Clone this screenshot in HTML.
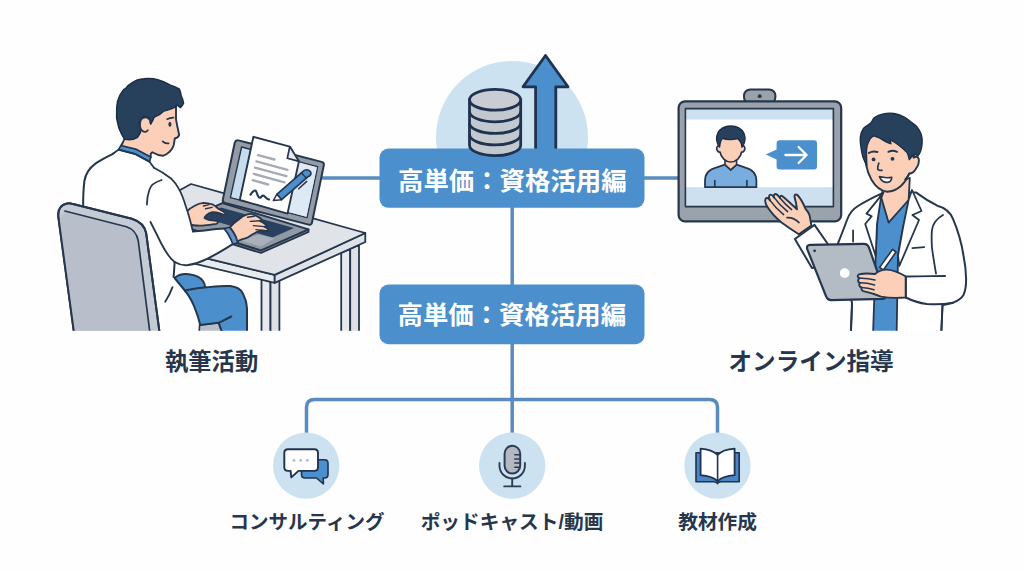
<!DOCTYPE html>
<html lang="ja">
<head>
<meta charset="utf-8">
<title>高単価：資格活用編</title>
<style>
html,body{margin:0;padding:0;background:#fefefe;}
body{width:1024px;height:572px;overflow:hidden;position:relative;font-family:"Liberation Sans","Noto Sans CJK JP",sans-serif;}
svg{position:absolute;left:0;top:0;display:block;}
svg text{font-family:"Liberation Sans","Noto Sans CJK JP",sans-serif;font-weight:bold;}
</style>
</head>
<body>
<svg width="1024" height="572" viewBox="0 0 1024 572">
<defs>
<clipPath id="cut"><rect x="0" y="0" width="1024" height="330.8"/></clipPath>
<clipPath id="ccl"><rect x="400" y="50" width="230" height="150"/></clipPath>
</defs>
<rect width="1024" height="572" fill="#fefefe"/>

<!-- ============ CONNECTORS ============ -->
<g id="lines" fill="none" stroke="#5a8bbf" stroke-width="3.5">
<path d="M322 178.1H381"/>
<path d="M643 178.1H679"/>
<path d="M512.2 206V434"/>
<path d="M306.5 434V407.6Q306.5 399.6 314.5 399.6H709.5Q717.5 399.6 717.5 407.6V434"/>
</g>

<!-- ============ CENTER ICON ============ -->
<g id="center">
<circle cx="512" cy="137" r="76" fill="#cce2f1" clip-path="url(#ccl)"/>
<!-- arrow -->
<path d="M545.5 55.5L568 86.8H555.8V152H535.6V86.8H523Z" fill="#4c8fcd" stroke="#1f3350" stroke-width="2.8" stroke-linejoin="round"/>
</g>

<!-- ============ BOXES ============ -->
<rect x="379.5" y="148.6" width="265" height="59.2" rx="9" fill="#4c8fcd"/>
<rect x="379.5" y="284.6" width="265" height="59.6" rx="9" fill="#4c8fcd"/>
<!-- db cylinder -->
<g stroke="#1f3350" stroke-width="2.8" fill="#c3c7ce">
<path d="M469.5 99.8V145.2A25.6 10.4 0 0 0 520.7 145.2V99.8Z"/>
<path d="M469.5 134.5A25.6 10.4 0 0 0 520.7 134.5" fill="none"/>
<path d="M469.5 123A25.6 10.4 0 0 0 520.7 123" fill="none"/>
<path d="M469.5 111.4A25.6 10.4 0 0 0 520.7 111.4" fill="none"/>
<ellipse cx="495.1" cy="99.8" rx="25.6" ry="10.4" fill="#c9cdd3"/>
</g>
<text x="512.3" y="189.5" font-size="25.4" fill="#ffffff" text-anchor="middle">高単価：資格活用編</text>
<text x="511.8" y="324.2" font-size="25.4" fill="#ffffff" text-anchor="middle">高単価：資格活用編</text>

<!-- ============ BOTTOM ICONS ============ -->
<g id="icons">
<circle cx="306.2" cy="465.6" r="33.2" fill="#cce2f1"/>
<circle cx="512.2" cy="465.6" r="33.2" fill="#cce2f1"/>
<circle cx="717.5" cy="465.6" r="33.2" fill="#cce2f1"/>
<!-- chat -->
<path d="M305 459.8H324.5Q328 459.8 328 463.3V474.5Q328 478 324.5 478H323.2L323.4 484L316.5 478H305Q301.5 478 301.5 474.5V463.3Q301.5 459.8 305 459.8Z" fill="#4c8fcd" stroke="#1f3350" stroke-width="1.6" stroke-linejoin="round"/>
<path d="M288 449.2H314.3Q318 449.2 318 452.9V467.2Q318 470.9 314.3 470.9H298.5L291.3 477.4L290.6 470.9H288Q284.3 470.9 284.3 467.2V452.9Q284.3 449.2 288 449.2Z" fill="#ffffff" stroke="#1f3350" stroke-width="1.9" stroke-linejoin="round"/>
<circle cx="294" cy="460.3" r="1.5" fill="#b9bfd0"/><circle cx="300.6" cy="460.3" r="1.5" fill="#b9bfd0"/><circle cx="307.3" cy="460.3" r="1.5" fill="#b9bfd0"/>
<!-- mic -->
<rect x="504.6" y="445.8" width="15.6" height="27.8" rx="7.8" fill="#b4b9c1" stroke="#2b3c55" stroke-width="2"/>
<g stroke="#2b3c55" stroke-width="1.5" fill="none" stroke-linecap="round">
<path d="M514.8 454.7H519.4M514.8 458.9H519.4M514.8 463.1H519.4M514.8 467.3H519.4"/>
<path d="M499.5 463V465.8A12.7 12.7 0 0 0 524.9 465.8V463" stroke-width="1.9"/>
<path d="M512.2 478.5V486.4M504.2 486.4H520.4" stroke-width="1.9"/>
</g>
<!-- book -->
<path d="M696 452.8H739.2V481.8H721Q718 482 717.6 483.6Q717 482 714 481.8H696Z" fill="#4a85c4" stroke="#1f3350" stroke-width="1.6" stroke-linejoin="round"/>
<path d="M700.6 448.6Q712 449.4 717.6 454.8Q723 449.4 734.6 448.6V475.2Q723 476 717.6 481.2Q712 476 700.6 475.2Z" fill="#ffffff" stroke="#1f3350" stroke-width="1.8" stroke-linejoin="round"/>
<path d="M717.6 454.8V481.2" stroke="#1f3350" stroke-width="1.6"/>
</g>

<!-- ============ LABELS ============ -->
<text x="211.6" y="370" font-size="23.3" fill="#26364c" text-anchor="middle">執筆活動</text>
<text x="811.1" y="370" font-size="23.6" fill="#26364c" text-anchor="middle">オンライン指導</text>
<text x="307" y="528.5" font-size="19.5" fill="#26364c" text-anchor="middle">コンサルティング</text>
<text x="512" y="528.5" font-size="19.7" fill="#26364c" text-anchor="middle">ポッドキャスト/動画</text>
<text x="717.6" y="528.5" font-size="19.7" fill="#26364c" text-anchor="middle">教材作成</text>

<!-- ============ LEFT SCENE ============ -->
<g id="left" clip-path="url(#cut)" stroke-linejoin="round" stroke-linecap="round">

<!-- desk -->
<g stroke="#25364d" stroke-width="1.8">
<!-- far right leg -->
<path d="M341.2 253V335H350.2V249Z" fill="#e6e9ed"/>
<path d="M350.2 249V335H359V245Z" fill="#dde1e6"/>
<!-- front leg -->
<path d="M261.5 279V335H270.5V282Z" fill="#e6e9ed"/>
<path d="M270.5 282V335H279.4V279Z" fill="#dde1e6"/>
<!-- faces -->
<path d="M274.7 274.9L102 233V241.5L274.7 282.9Z" fill="#e9ecef"/>
<path d="M274.7 274.9L365.3 233V242L274.7 282.9Z" fill="#dfe3e8"/>
<!-- top -->
<path d="M191 184L365.3 233L274.7 274.9L102 233Z" fill="#e0e4e8"/>
</g>

<!-- laptop base -->
<g stroke="#25364d" stroke-width="1.8">
<path d="M175 226.5L261 253L308.5 232V229.3L261 250.3L175 224Z" fill="#6f7a8a"/>
<path d="M222.4 203.1L308.5 229.3L261 250.3L175 224Z" fill="#8f98a3"/>
<path d="M221 207.5L294 228L272.5 237.5L199.5 217Z" fill="#2a4060" stroke="none"/>
<path d="M238.5 239.8L259 234.8L274.5 238.3L261 246.6Z" fill="#aab0ba" stroke="none"/>
</g>
<!-- laptop screen -->
<path d="M238.6 140.4L321.6 161.9Q324.4 162.7 323.8 165.4L312 222.6Q311.4 225.4 308.6 224.6L225 203Q222.2 202.2 222.9 199.4L234.8 142.5Q235.8 139.6 238.6 140.4Z" fill="#929ba6" stroke="#25364d" stroke-width="2"/>
<path d="M241.6 147L317.6 166.8L307 217.6L230.4 197.6Z" fill="#c9dcee" stroke="#25364d" stroke-width="1.4"/>
<path d="M292 160.6L316.9 167.2L306.4 216.8L285 211Z" fill="#dde9f4"/>
<!-- paper -->
<path d="M253.4 136.8L289.8 146.6L298.9 161.4L287.5 213.6L239.8 200Z" fill="#ffffff" stroke="#25364d" stroke-width="1.9"/>
<path d="M289.8 146.6L287.3 158.2L298.9 161.4Z" fill="#e6e9ee" stroke="#25364d" stroke-width="1.7"/>
<g stroke="#a7abb6" stroke-width="2.4" fill="none">
<path d="M258 155.2L274.5 159.5M256.4 161.4L287.5 169.8M255 167.6L286.4 176.1M253.9 173.9L284.5 182.3M252.7 180.2L268.2 184.5"/>
</g>
<path d="M250.5 194.6C252.5 191.5 254.8 189.6 255.9 191C257.3 193 257.6 197.6 259.8 197.7C261.6 197.8 261.8 194.8 263.6 195.6C265.4 196.6 266.5 199 269 199.5" fill="none" stroke="#25364d" stroke-width="2.1"/>
<!-- pen -->
<path d="M276.8 194.3L303.3 171.2C305.5 169 309 169.4 310.4 171.6C311.8 173.8 310.6 175.6 308.1 176.6L281.6 199.7Z" fill="#4c8fcd" stroke="#25364d" stroke-width="1.7"/>
<path d="M276.8 194.3L281.6 199.7L273.3 200.6Z" fill="#ffffff" stroke="#25364d" stroke-width="1.5"/>
<path d="M301.4 172.8L306.4 178.2" fill="none" stroke="#25364d" stroke-width="1.3"/>
<path d="M298.7 188.8L306.7 181.4" fill="none" stroke="#25364d" stroke-width="1.5"/>

<path d="M199.6 324.9L218.7 322.8L223 335H199Z" fill="#b8bfcb" stroke="#25364d" stroke-width="1.6"/>
<!-- trousers -->
<g stroke="#25364d" stroke-width="2" fill="#4c8fcd">
<path d="M174.6 278C178 274.8 184 273.6 189 274.2C195.5 275 200.5 277.4 203 281C204.6 283.4 205.2 285.4 205 287.5L186 292Z"/>
<path d="M185 290.4C193 288.6 201 287.4 209.2 287C217 286.3 224 285.6 230.2 286.1C236.8 286.8 241 289.6 243 293.6C245.4 298.2 246.8 303 247 308.2V335H223L218.7 322.8L200.2 324.9C199 320 197.6 315 195.6 310.2C193.2 303 189.5 296.6 185 290.4Z"/>
<path d="M231.3 316.5L218.7 322.8" fill="none"/>
</g>

<!-- far hand -->
<path d="M185.9 212.1C188.6 209.6 191.6 207.4 194.7 205.8C197.6 204 200.5 203 203.5 202.8C206.6 202.8 209.6 203.4 212.3 204.3C214.6 205.6 216.6 207 218.2 208.7C221 210 223.8 211.6 226 213.6C225 215 222 214.6 219.1 213.1C217 212.4 214.6 212 212.3 212.1C210 212.8 208 213.8 206.4 215.1C205.2 216 204.6 217 204.5 218C206 219 207.6 219.6 209.4 220C212 220.2 215 220.4 217.7 221C218.4 222.4 217.6 223.4 216.2 223.9C212 224.6 208 225.2 204.5 225.4C200 225.8 195.6 225.6 191.7 225L185 226Z" fill="#fcd0b8" stroke="#25364d" stroke-width="1.8"/>
<path d="M205.6 208.8L212.2 207.4M203.4 206L209 204.6" fill="none" stroke="#25364d" stroke-width="1.4"/>

<!-- coat body + arm -->
<path d="M113.6 153.3C108 156.4 101 159.6 95.4 163.6C89.5 168 85.6 173.6 84.4 181C83.2 190 83 200 83.2 212L95 335H160L166 303C170.6 296 173.6 288 173.6 277L174.6 262C179 264.6 183.6 265.6 188.2 265.1C195 264 201.4 261.6 207.1 258.8C215.6 254.8 224 249.4 232.8 244.2L224 228.6C213 229.4 203 230.6 192.9 231.4C191.6 226 189 215 186 207C184 200 181.6 193.6 178.7 188.6C176.6 184.6 174 181.2 171.4 178.8C166 174.6 160 170.6 154 167.7L135.7 154.2L118.5 149.4Z" fill="#ffffff"/>
<g fill="none" stroke="#25364d" stroke-width="2">
<path d="M113.6 153.3C108 156.4 101 159.6 95.4 163.6C89.5 168 85.6 173.6 84.4 181C83.2 190 83 200 83.2 212"/>
<path d="M174.6 262C179 264.6 183.6 265.6 188.2 265.1C195 264 201.4 261.6 207.1 258.8C215.6 254.8 224 249.4 232.8 244.2"/>
<path d="M224 228.6C213 229.4 203 230.6 192.9 231.4"/>
<path d="M174.6 262C174.4 267 174 272 173.6 277"/>
</g>
<!-- coat details -->
<g fill="none" stroke="#25364d" stroke-width="1.8">
<path d="M161.6 180C155 182 150.4 186 149.3 190C147.6 195 147 200 146.9 204.5"/>
<path d="M154 167.7C160 170.6 166 174.6 171.4 178.8C174 181.2 176.6 184.6 178.7 188.6C181.6 193.6 184 200 186 207C189 215 191.6 226 192.9 231.4"/>
<path d="M172.5 287.1C170.5 292.6 168 297.6 165.2 301.8"/>
<path d="M150.5 222C154 229 157.6 236 161 243C165.6 252 170 258.6 174.6 262"/>
</g>
<!-- cuff -->
<path d="M224 228.6L229.9 227.3C233.6 231.6 236.6 236.6 238.2 242.4L232.8 244.2C231 238.4 228 233 224 228.6Z" fill="#6295cb" stroke="#25364d" stroke-width="1.6"/>

<!-- near hand -->
<path d="M229.9 227.3C232.6 224.4 235.6 221.6 238.7 219.5C241 217.4 243.6 215.6 246.5 214.6C248.6 214 250.6 213.8 252.4 214.1C255.6 215.2 258.6 216.8 261.2 219C262 220.2 261.2 221 259.8 220.8C262 221.6 264.4 223 266.1 224.9C266.8 226.2 265.8 227 264.4 226.6C266 227.4 267.4 228.2 268.1 229.3C268.4 230.6 267.4 231.2 266 230.8C264 230.4 262 230.4 260.2 230.7C256 232.4 252 234.6 248.5 237.1C246.6 238 244.6 238.8 242.6 239.1C240.6 239.8 238.8 240.6 237.4 241.2C236 236 233.4 231.4 229.9 227.3Z" fill="#fcd0b8" stroke="#25364d" stroke-width="1.8"/>
<path d="M247.5 217.2L254.3 216.2M250.4 221.4L259.8 220.8M253.4 225.6L264.4 226.6M256 229.6L262 230.4" fill="none" stroke="#25364d" stroke-width="1.4"/>

<!-- face + neck -->
<path d="M176 100L176 119C176.3 121 176.6 122.6 176.9 124.2C177.6 128 178.6 131.6 179.1 135C178.6 137 177 138 174.8 138.5L174.3 141.7C174 146 172 149.6 169.1 152.2C167.4 154 165.4 155.2 162.9 155.7C159 155.6 155.4 154 152.4 152.2L150.7 153.9L150.7 157.6L121 146L124.5 139.1L130 100Z" fill="#fcd0b8" stroke="#25364d" stroke-width="1.9"/>
<ellipse cx="169.9" cy="124.2" rx="1.5" ry="2.5" fill="#25364d"/>
<path d="M167.1 119.2C169.2 118 171.4 117.5 173.5 117.6" fill="none" stroke="#25364d" stroke-width="1.7"/>
<path d="M162.7 141.4C164.4 143.2 166.4 143.8 168.6 143.3" fill="none" stroke="#25364d" stroke-width="1.7"/>
<!-- collar -->
<path d="M121 145.5L136.6 149.4L150.7 157.1L149.5 161.8L135.7 154.2L118.5 149.6Z" fill="#4c8fcd" stroke="#25364d" stroke-width="1.7"/>
<path d="M113.6 153.3L118.5 149.6L135.7 154.2L149.5 161.8L154 167.7" fill="none" stroke="#25364d" stroke-width="1.8"/>
<!-- hair -->
<path d="M124.5 139.1C122.5 136 121.5 134 121 132.9C119 129 118 126 117.5 122.4C116.5 119 116.3 116 116.6 113.7C116.4 109 116.8 105 117.5 101.5C118.6 97 120.4 93.6 122.7 91C123.2 89.6 124.4 88.6 125.5 88.6C127 86.4 129 84.4 131.5 83.1C135 80.6 139 79 143.7 78.7C148.6 78 153.6 78.4 157.7 79.6C162 80.6 166 82.6 169.9 84.9C173.6 86 176.8 87.4 179.5 89.2C180.6 91.6 181 94 181.3 96.2C182.6 98.6 183.4 101 183.6 103.2C182.8 105 181.8 106.6 180.4 107.6L176.9 105L174.3 107.6C172.8 108.4 171.4 109 169.9 109.3C167.8 110 165.8 110.6 163.8 111.1C162.2 112.2 160.8 113.4 159.4 114.6C157.6 115.6 155.8 116.4 154.2 117.2C153.2 119.6 152 122 150.7 124.2C150 122 149.4 120 149 118.1C147.4 117 145.6 116.4 143.7 116.3C141.6 117.6 140 119.8 139.3 122.4C139 125.4 139.8 128 141.1 130.3C140.4 133 139.2 135.4 137.6 137.3C133.6 139.6 129 140.4 124.5 139.1Z" fill="#27405c" stroke="#1b2d46" stroke-width="1.4"/>
<!-- ear -->
<path d="M149.4 119.6C147.6 116.8 143.4 116.6 141.2 119.6C139.4 122.6 139.6 127.4 141.8 130.4C143.6 132.4 146.4 132.2 147.8 130.2" fill="#fcd0b8" stroke="#25364d" stroke-width="1.7"/>

<!-- chair -->
<path d="M74.3 335L58.4 217.4Q57 205.4 67 203.4Q69.6 203 72 203.7L131.8 218.8Q144 222.6 146.2 233.3L159.9 335Z" fill="#c5cbd4" stroke="#25364d" stroke-width="2"/>
<path d="M74.3 335L58.9 221L64.9 211L126.5 226.7Q136.4 230 138.3 241.1L150.2 335Z" fill="#b8bfcb"/>
<path d="M64.9 211L126.5 226.7Q136.4 230 138.3 241.1L150.2 335" fill="none" stroke="#25364d" stroke-width="1.7"/>
<path d="M74.3 335L58.4 217.4Q57 205.4 67 203.4Q69.6 203 72 203.7L131.8 218.8Q144 222.6 146.2 233.3L159.9 335" fill="none" stroke="#25364d" stroke-width="2"/>
</g>

<!-- ============ RIGHT SCENE ============ -->
<g id="right" clip-path="url(#cut)" stroke-linejoin="round" stroke-linecap="round">

<!-- monitor -->
<rect x="744" y="89.4" width="31.4" height="14" rx="6.2" fill="#9aa2ac" stroke="#25364d" stroke-width="2"/>
<circle cx="759.7" cy="96.2" r="1.9" fill="#25364d"/>
<rect x="678.6" y="101.4" width="162.6" height="120" rx="6.5" fill="#9aa2ac" stroke="#25364d" stroke-width="2.2"/>
<rect x="685.4" y="108.6" width="148" height="98" fill="#ffffff"/>
<rect x="685.4" y="108.6" width="148" height="11" fill="#cde0f0"/>
<rect x="685.4" y="187.2" width="148" height="19.4" fill="#cde0f0"/>
<!-- avatar -->
<path d="M705 187.2V181C705 173.6 709 169.4 716 167.6L725 164.6L730.7 169.8L736.6 164.6L745.4 167.6C752.4 169.4 756.4 173.6 756.4 181V187.2Z" fill="#7aaddf" stroke="#25364d" stroke-width="1.8"/>
<path d="M714.8 180.6V187M746.9 180.6V187" stroke="#25364d" stroke-width="1.6" fill="none"/>
<path d="M725 158V164.6L730.7 169.8L736.6 164.6V158Z" fill="#fcd0b8" stroke="#25364d" stroke-width="1.6"/>
<path d="M719.4 146C717.4 145.4 716.4 147.2 716.8 149.2C717.2 151.2 718.6 152.4 720 152C721 157.6 725.4 162 730.8 162C736.2 162 740.6 157.6 741.6 152C743 152.4 744.4 151.2 744.8 149.2C745.2 147.2 744.2 145.4 742.2 146V138H719.4Z" fill="#fcd0b8" stroke="#25364d" stroke-width="1.7"/>
<path d="M719.6 147.2C716.6 143 715.6 138 717.6 133.4C720 128.6 725 126 730.8 126C736.6 126 741.6 128.6 744 133.4C746 138 745 143 742 147.2C741.6 143.4 740 140.6 737.6 138.6C733 140 726 140 722.6 138.4C720.6 140.6 719.8 143.6 719.6 147.2Z" fill="#27405c" stroke="#1b2d46" stroke-width="1.3"/>
<!-- speech -->
<path d="M779.6 140.3H814Q817 140.3 817 143.3V166.6Q817 169.6 814 169.6H779.6Q776.6 169.6 776.6 166.6V159.5L765.8 154.6L776.6 149.6V143.3Q776.6 140.3 779.6 140.3Z" fill="#4c8fcd"/>
<path d="M785.4 155H806M798.6 147L806.6 155L798.6 163" fill="none" stroke="#ffffff" stroke-width="2.3"/>
<rect x="685.4" y="108.6" width="148" height="98" fill="none" stroke="#25364d" stroke-width="1.6"/>

<!-- coat body -->
<path d="M883.5 192.6C876 196 866 201 858 206C852 209.6 849 214 847 220C844 228 841 236 838.1 243L852 303L850.8 335H941.2L942.5 305.3L953 302.7C958 300.6 961.6 298 963.5 294.9C965.6 290 966.2 284.6 966.1 279.1C966 271 965 263 963.5 255.5C961.6 243 958 230.6 953 218.8C950 211.6 944.6 207.6 937.3 205.7C930 202 923 197.6 916.3 192.6Z" fill="#ffffff" stroke="#25364d" stroke-width="2"/>
<!-- scrubs -->
<path d="M880 196L910 200L903.2 226.7L898 255.5L896.6 335H873L875.7 256L877 224Z" fill="#4c8fcd" stroke="#25364d" stroke-width="1.8"/>
<!-- neck -->
<path d="M883 188L881.4 198L888.6 222.6L908.6 200L909.8 178Z" fill="#fcd0b8" stroke="#25364d" stroke-width="1.8"/>
<!-- lapels -->
<path d="M883.5 192.6L866.5 213.6L871.7 216.2L865.2 224L875.7 256L877 224L881 197.6Z" fill="#ffffff" stroke="#25364d" stroke-width="1.8"/>
<path d="M912 190L921.5 211L912.4 215L919 220L899.3 266L898 255.5L903.2 226.7L908.6 200Z" fill="#ffffff" stroke="#25364d" stroke-width="1.8"/>
<g fill="none" stroke="#25364d" stroke-width="1.8">
<path d="M912.4 248.2L924.2 247.1"/>
<path d="M943 215C936 219 932.6 224 931.9 230.3C931.4 236 931.6 241 931.9 247C933 256 934.6 265 936 273.6"/>
<path d="M907.1 276.5C920 276 933 276.2 945.1 276"/>
<path d="M942.5 305.3L941.2 335"/>
<path d="M852.1 302.7L850.8 335"/>
<path d="M853.1 230.4V241.6"/>
</g>

<!-- left sleeve (raised) -->
<path d="M814.5 224.9L827.1 243L838 262L812 268L794.9 239Z" fill="#ffffff" stroke="#25364d" stroke-width="2"/>
<!-- presenting hand -->
<path d="M798.8 234.3C793 230.6 787 226.6 781.5 222.5C776 218 770.6 212 767.3 206.8C765.6 204 764.8 200.4 765.7 198.6C766.8 197 768.6 198.4 770 200.4C769 198 768.6 195.6 770 194.8C771.4 194.2 772.8 195.6 774 197.4C773.6 195.6 774 194 775.4 194C777 194 778.6 196 780 198C780 196.4 780.8 195.4 782.2 196C787 200 792 204.6 797 209.4C796.6 205 795.6 200.6 794.6 197.4C794 195 795.4 193.6 797.4 195C801 199 803.6 204 805.4 208.6C807.4 211 809 213 809.6 215.6C810.4 219 810.8 222.4 811.4 225.6Z" fill="#fcd0b8" stroke="#25364d" stroke-width="1.9"/>
<g fill="none" stroke="#25364d" stroke-width="1.6">
<path d="M770 200.4C774 206 778.6 210.6 783.6 214.6"/>
<path d="M774 197.4C778 203 782.6 207.6 787.6 211.6"/>
<path d="M780 198C783.6 202.6 787.6 206.4 791.6 209.6"/>
<path d="M787 217.6C791.6 217.4 796 219.4 799 222.6"/>
</g>

<!-- tablet -->
<path d="M810.4 244.9L863.6 243.8Q867.6 243.7 868.9 247.3L885.4 294.6Q886.8 298.6 882.6 298.9L831.4 300.1Q827.6 300.2 826.2 296.6L807.4 249.6Q805.8 245 810.4 244.9Z" fill="#b3bbc5" stroke="#25364d" stroke-width="2.2"/>
<circle cx="844.7" cy="273.1" r="4.9" fill="#ffffff"/>
<circle cx="814.6" cy="250.8" r="1.4" fill="#25364d"/>

<!-- stylus -->
<path d="M892.6 249.4L896 252L883.4 270L879.6 267.4Z" fill="#ffffff" stroke="#25364d" stroke-width="1.6"/>
<!-- right hand holding tablet -->
<path d="M905.8 276.5C900 273 893 270 887 269.6C882 269.4 878 271.6 875 274C870 273.4 864 273.2 859.6 274.2C857 275 857 277.6 859.6 278.2C857.6 279.4 857.4 282 860 282.8C858.6 284.4 859 286.8 861.6 287.4C861 289.4 862 291 864.4 291.4C870 292.6 876 294.6 881 296.6C888 298 897 298.2 905.8 297.5Z" fill="#fcd0b8" stroke="#25364d" stroke-width="1.9"/>
<g fill="none" stroke="#25364d" stroke-width="1.5">
<path d="M859.6 278.2C865 278 870 278.6 875 280"/>
<path d="M860 282.8C865 282.8 870 283.6 874.6 285"/>
<path d="M861.6 287.4C866 287.6 870 288.4 874 289.8"/>
</g>
<!-- right cuff -->
<path d="M905.8 276.5V297.5" fill="none" stroke="#25364d" stroke-width="1.9"/>
<path d="M905.8 297.5C912 300.6 919 303 926.8 304C935 304.6 944 304.4 953 302.7" fill="none" stroke="#25364d" stroke-width="2"/>

<!-- face -->
<path d="M865.6 150C865.2 155 865.4 160 866.2 165C867.2 170.6 869 175.6 871.5 179.8C875 186 880.6 191 887.2 191.7C892.6 191.6 897 189.4 900.9 186C904.6 182.6 907.4 178.4 909.3 173.5C911.6 173.6 914 172 915.6 169.3C918 166 919.4 162 918.7 158.8C918 156.6 916 156 913.6 157.6L916 140L905 128L875 128L863 140Z" fill="#fcd0b8" stroke="#25364d" stroke-width="1.9"/>
<circle cx="873.6" cy="159.4" r="1.9" fill="#25364d"/>
<circle cx="892.5" cy="158.8" r="1.9" fill="#25364d"/>
<g fill="none" stroke="#25364d" stroke-width="1.7">
<path d="M868.8 153C871.4 151.4 874.6 151 877.4 152" stroke-width="2"/>
<path d="M888.4 151.8C891.2 150.6 894.4 150.6 897 151.8" stroke-width="2"/>
<path d="M878.8 163C878 165.4 877.4 167.6 877.8 169.3C879 170.4 880.6 170.6 882 170.3"/>
<path d="M909.3 173.5C908 176 906.6 178 905 179.6"/>
</g>
<path d="M879.5 176.6C883.6 177.8 888 178 891.8 177.2C891.4 180.6 889.6 182.6 887 182.4C883.6 182.4 880.8 180 879.5 176.6Z" fill="#ffffff" stroke="#25364d" stroke-width="1.6"/>
<!-- hair -->
<path d="M866.8 166.0C866.1 164.3 863.6 159.5 862.6 156.0C861.6 152.5 861.0 148.3 860.6 145.0C860.2 141.7 859.9 139.2 860.4 136.4C860.9 133.7 861.8 130.8 863.5 128.5C865.2 126.2 869.1 124.6 870.9 122.8C872.7 121.0 872.4 119.0 874.5 117.5C876.6 116.0 880.2 114.6 883.4 113.9C886.6 113.2 890.4 113.0 893.9 113.5C897.4 114.0 901.6 115.6 904.4 117.0C907.2 118.4 908.6 120.0 910.7 121.7C912.8 123.4 915.2 124.9 917.0 127.0C918.8 129.1 920.3 131.7 921.2 134.3C922.1 136.9 922.3 139.9 922.2 142.7C922.1 145.5 921.4 148.9 920.7 151.1C920.0 153.3 918.5 155.0 918.0 155.8C917.5 155.6 915.9 154.6 914.9 154.7C913.9 154.8 913.2 155.5 912.3 156.3C911.4 157.1 909.8 159.1 909.3 159.7C909.1 159.0 908.6 156.6 908.1 155.3C907.6 154.0 908.2 153.8 906.5 152.1C904.8 150.3 900.5 146.6 898.1 144.8C895.8 143.0 893.8 141.9 892.4 141.1C891.0 140.3 890.3 140.3 889.9 140.1C890.1 140.7 890.8 143.3 891.0 143.9C890.1 143.5 887.5 142.6 885.5 141.6C883.5 140.6 881.3 138.9 879.3 138.0C877.3 137.1 874.5 136.2 873.5 135.9C872.9 136.5 870.8 137.8 869.8 139.5C868.8 141.2 867.8 143.7 867.2 145.8C866.7 147.9 866.6 149.7 866.5 152.1C866.4 154.5 866.7 158.2 866.7 160.5C866.8 162.8 866.8 165.1 866.8 166.0Z" fill="#27405c" stroke="#1b2d46" stroke-width="1.3"/>
</g>

</svg>
</body>
</html>
